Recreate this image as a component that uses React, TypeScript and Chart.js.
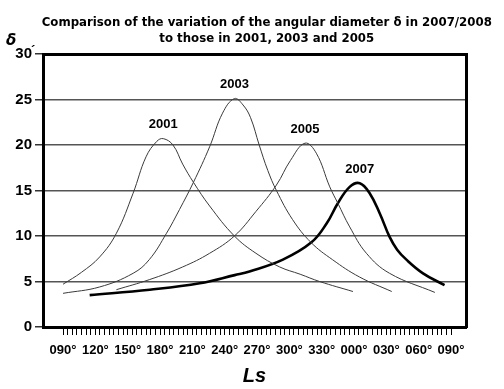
import React, { useEffect, useRef } from "react";
import { Chart, registerables } from "chart.js";

Chart.register(...registerables);

const TITLE_LINES = [
  "Comparison of the variation of the angular diameter \u03b4 in 2007/2008",
  "to those in 2001, 2003 and 2005",
];
const SERIES_NAMES = ["2001", "2003", "2005", "2007"];

// Ls in continuous degrees (360..450 = 000°..090° of the next year)
const LS_2001 = [90, 107, 124, 139.5, 155, 167, 177, 183, 192, 201, 211, 226, 249, 269, 291, 310, 328, 359];
const D_2001 = [4.7, 6.0, 7.7, 10.3, 14.7, 18.7, 20.4, 20.7, 20.0, 17.9, 15.9, 13.3, 10.0, 8.1, 6.6, 5.8, 5.0, 3.9];

const LS_2003 = [90, 124, 155, 170, 186, 198, 211, 226, 238, 249, 257, 264, 272, 280, 288, 303, 320, 340, 365, 395];
const D_2003 = [3.7, 4.4, 5.9, 7.4, 10.3, 12.9, 15.9, 19.8, 23.5, 25.1, 24.4, 23.0, 20.0, 17.2, 15.0, 11.8, 9.3, 7.4, 5.5, 3.9];

const LS_2005 = [139.5, 170, 201, 226, 249, 269, 288, 301, 314.5, 325, 337.5, 345, 356, 371.5, 393, 435];
const D_2005 = [4.1, 5.2, 6.6, 8.1, 10.0, 12.7, 15.6, 18.3, 20.2, 19.1, 15.4, 13.6, 11.0, 8.1, 5.9, 3.8];

const LS_2007 = [114.7, 170.5, 216.8, 249.3, 263, 294, 320.5, 334.7, 345, 356, 365.3, 374.5, 383.8, 393, 400, 408.6, 424, 444];
const D_2007 = [3.5, 4.1, 4.8, 5.7, 6.1, 7.4, 9.3, 11.4, 13.6, 15.4, 15.8, 14.7, 12.5, 9.9, 8.5, 7.4, 5.9, 4.6];

const X_LABEL_START = 90;
const X_LABEL_END = 450;
const X_LABEL_STEP = 30;
const X_MINOR_PER_LABEL = 7;
const Y_TICKS = [0, 5, 10, 15, 20, 25, 30];

const pts = (xs: number[], ys: number[]) => xs.map((x, i) => ({ x, y: ys[i] }));

const labelPlugin = {
  id: "decor",
  afterDraw(chart: any) {
    const { ctx, chartArea, scales } = chart;
    ctx.save();
    // title (condensed bold sans, like Tahoma)
    ctx.fillStyle = "#000";
    ctx.textAlign = "center";
    ctx.textBaseline = "middle";
    ctx.font = "bold 13px 'DejaVu Sans'";
    const cx = chartArea.left + (chartArea.right - chartArea.left) * 0.529;
    const targetW = (chartArea.right - chartArea.left) * 1.064;
    const w0 = ctx.measureText(TITLE_LINES[0]).width;
    const k = Math.min(1, targetW / w0);
    ctx.save();
    ctx.translate(cx, 0);
    ctx.scale(k, 1);
    ctx.fillText(TITLE_LINES[0], 0, chartArea.top - 31);
    ctx.fillText(TITLE_LINES[1], 0, chartArea.top - 15);
    ctx.restore();
    // year labels at peaks
    ctx.font = "bold 13px 'Liberation Sans'";
    chart.data.datasets.forEach((ds: any, i: number) => {
      let best = ds.data[0];
      ds.data.forEach((p: any) => { if (p.y > best.y) best = p; });
      const px = scales.x.getPixelForValue(best.x);
      const py = scales.y.getPixelForValue(best.y);
      ctx.fillText(SERIES_NAMES[i], px, py - 14);
    });
    // delta axis symbol and minute mark
    ctx.font = "italic bold 15px 'DejaVu Sans'";
    ctx.textAlign = "left";
    ctx.fillText("\u03b4", chartArea.left - 37, chartArea.top - 13);
    ctx.font = "bold 13px 'Liberation Sans'";
    ctx.fillText("\u00b4", chartArea.left - 12, scales.y.getPixelForValue(30) - 3);
    ctx.restore();
  },
};

export default function App() {
  const ref = useRef<HTMLCanvasElement | null>(null);
  useEffect(() => {
    if (!ref.current) return;
    const thin = { borderColor: "#3a3a3a", borderWidth: 1 };
    const chart = new Chart(ref.current, {
      type: "line",
      data: {
        datasets: [
          { label: SERIES_NAMES[0], data: pts(LS_2001, D_2001), ...thin },
          { label: SERIES_NAMES[1], data: pts(LS_2003, D_2003), ...thin },
          { label: SERIES_NAMES[2], data: pts(LS_2005, D_2005), ...thin },
          { label: SERIES_NAMES[3], data: pts(LS_2007, D_2007), borderColor: "#000", borderWidth: 2.6 },
        ],
      },
      plugins: [labelPlugin],
      options: {
        animation: false,
        responsive: false,
        maintainAspectRatio: false,
        elements: {
          point: { radius: 0 },
          line: { tension: 0.4, fill: false },
        },
        layout: { padding: { left: 0, right: 38, top: 54, bottom: 0 } },
        plugins: { legend: { display: false }, title: { display: false }, tooltip: { enabled: false } },
        scales: {
          x: {
            type: "linear",
            min: 71.4,
            max: 463.9,
            afterBuildTicks(scale: any) {
              const n = ((X_LABEL_END - X_LABEL_START) / X_LABEL_STEP) * X_MINOR_PER_LABEL;
              const t = [];
              for (let i = 0; i <= n; i++) t.push({ value: X_LABEL_START + (i * X_LABEL_STEP) / X_MINOR_PER_LABEL });
              scale.ticks = t;
            },
            afterFit(scale: any) { scale.height = 62; },
            grid: { drawOnChartArea: false, drawTicks: true, tickLength: 8, tickColor: "#000", tickWidth: 1 },
            border: { display: true, width: 3, color: "#000" },
            ticks: {
              autoSkip: false,
              maxRotation: 0,
              padding: 8,
              color: "#000",
              font: { family: "'Liberation Sans', Arial", size: 13, weight: "bold" },
              callback(v: any, i: number) {
                if (i % X_MINOR_PER_LABEL !== 0) return "";
                const d = Math.round(Number(v)) % 360;
                return String(d).padStart(3, "0") + "\u00b0";
              },
            },
            title: {
              display: true,
              text: "Ls",
              color: "#000",
              font: { family: "'Liberation Sans', Arial", size: 20, weight: "bold", style: "italic" },
              padding: { top: 4, bottom: 1 },
            },
          },
          y: {
            min: 0,
            max: 30,
            afterBuildTicks(scale: any) { scale.ticks = Y_TICKS.map((value) => ({ value })); },
            afterFit(scale: any) { scale.width = 43; },
            grid: { color: "#555", lineWidth: 1.5, tickLength: 8, tickColor: "#333" },
            border: { display: true, width: 3, color: "#000" },
            ticks: {
              padding: 3,
              color: "#000",
              font: { family: "'Liberation Sans', Arial", size: 15, weight: "bold" },
            },
          },
          x2: {
            type: "linear",
            position: "top",
            min: 0,
            max: 1,
            grid: { drawOnChartArea: false, drawTicks: false },
            border: { display: true, width: 3, color: "#000" },
            ticks: { display: false },
          },
          y2: {
            position: "right",
            min: 0,
            max: 1,
            grid: { drawOnChartArea: false, drawTicks: false },
            border: { display: true, width: 3, color: "#000" },
            ticks: { display: false },
          },
        },
      } as any,
    });
    return () => chart.destroy();
  }, []);
  return (
    <div style={{ position: "fixed", left: 0, top: 0, width: 504, height: 389, background: "#fff" }}>
      <canvas ref={ref} width={504} height={389} style={{ width: 504, height: 389, display: "block" }} />
    </div>
  );
}
